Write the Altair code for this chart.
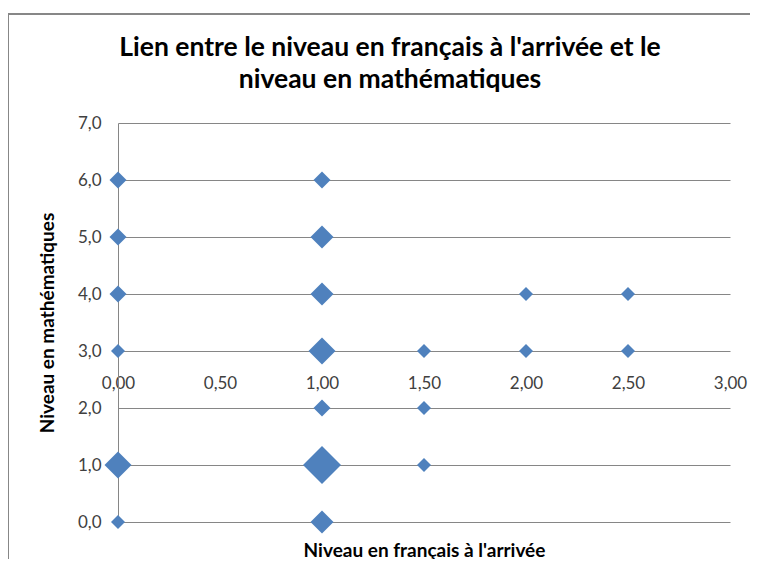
import altair as alt
import pandas as pd

# Données
niveau_francais = [0, 1, 0, 1, 0, 1, 2, 2.5, 0, 1, 1.5, 2, 2.5, 1, 1.5, 0, 1, 1.5, 0, 1]
niveau_maths    = [6, 6, 5, 5, 4, 4, 4, 4,   3, 3, 3,   3, 3,   2, 2,   1, 1, 1,   0, 0]
effectif        = [2, 2, 2, 3, 2, 3, 1, 1,   1, 4, 1,   1, 1,   2, 1,   4, 7, 1,   1, 3]

x_ticks = [0, 0.5, 1.0, 1.5, 2.0, 2.5, 3.0]
y_ticks = [0, 1, 2, 3, 4, 5, 6, 7]

titre = ["Lien entre le niveau en français à l'arrivée et le", "niveau en mathématiques"]

df = pd.DataFrame({"fr": niveau_francais, "math": niveau_maths, "n": effectif})
one = pd.DataFrame({"k": [0]})

FONT = "Lato"
W, H = 612, 399
unit_y = H / 7

points = alt.Chart(df).mark_point(shape="diamond", filled=True, opacity=1, color="#4F81BD").encode(
    x=alt.X("fr:Q", scale=alt.Scale(domain=[0, 3], nice=False),
            axis=alt.Axis(values=x_ticks, grid=False, domain=False, ticks=False, tickSize=0,
                          labelExpr="replace(format(datum.value, '.2f'), '.', ',')",
                          labelFlush=False, labelOverlap=False,
                          labelPadding=24, labelFontSize=17, labelColor="#404040", labelFont=FONT,
                          offset=-3 * unit_y,
                          title="Niveau en français à l'arrivée",
                          titleFont=FONT, titleFontSize=19, titleFontWeight="bold", titleColor="#000000",
                          titleY=205, titleBaseline="alphabetic")),
    y=alt.Y("math:Q", scale=alt.Scale(domain=[0, 7], nice=False),
            axis=alt.Axis(values=y_ticks, grid=True, gridColor="#868686", gridWidth=1,
                          domain=True, domainColor="#868686", domainWidth=1,
                          ticks=False, tickSize=0, labelFlush=False,
                          labelExpr="replace(format(datum.value, '.1f'), '.', ',')",
                          labelPadding=17, labelFontSize=17, labelColor="#404040", labelFont=FONT,
                          title="Niveau en mathématiques",
                          titleFont=FONT, titleFontSize=19, titleFontWeight="bold", titleColor="#000000",
                          titleX=-71, titleY=H / 2, titleAngle=-90, titleAlign="center",
                          titleBaseline="middle")),
    size=alt.Size("n:Q", scale=alt.Scale(domain=[1, 2, 3, 4, 7], range=[196, 289, 529, 729, 1444]),
                  legend=None),
)

border = alt.Chart(one).mark_rect(fill=None, stroke="#878787", strokeWidth=2, clip=False).encode(
    x=alt.value(-110), x2=alt.value(720), y=alt.value(-109), y2=alt.value(480)
)

title_mark = alt.Chart(one).mark_text(
    text=titre, font=FONT, fontSize=26.5, fontWeight="bold", color="#000000",
    align="center", baseline="alphabetic", lineHeight=32,
).encode(x=alt.value(272), y=alt.value(-67))

chart = alt.layer(border, points, title_mark).properties(
    width=W, height=H,
    autosize=alt.AutoSizeParams(type="none"),
    padding={"left": 110, "top": 115, "right": 20, "bottom": 37},
).configure_view(stroke=None)

chart.save("out.html", embed_options={"renderer": "svg", "actions": False})
